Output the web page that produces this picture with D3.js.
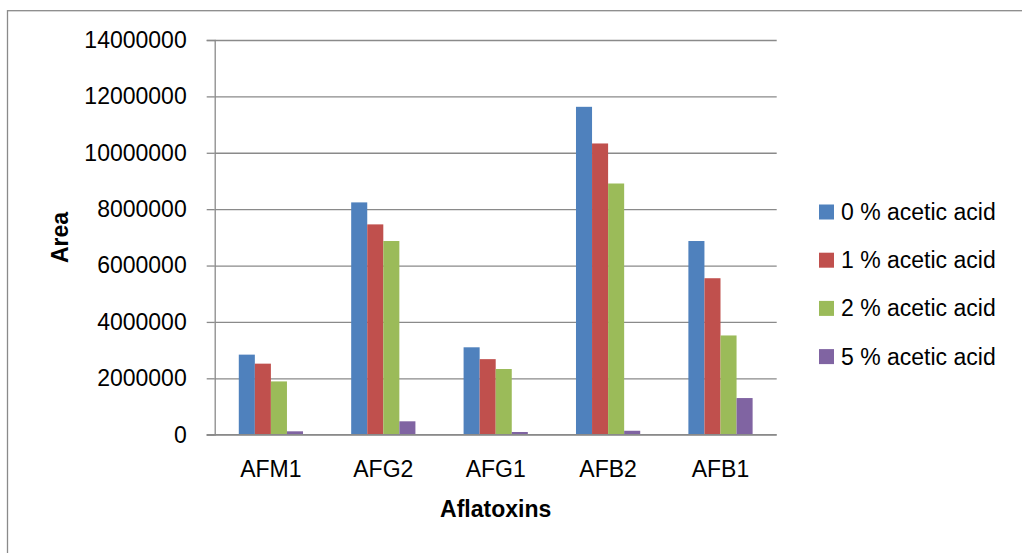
<!DOCTYPE html>
<html>
<head>
<meta charset="utf-8">
<script src="https://cdn.jsdelivr.net/npm/d3@7"></script>
<style>
  html, body { margin: 0; padding: 0; background: #fff; }
  svg { display: block; }
  text { font-family: "Liberation Sans", Arial, sans-serif; fill: #000; }
</style>
</head>
<body>
<svg id="chart" width="1022" height="553"></svg>
<script>
// Aflatoxin peak areas by acetic acid concentration
const categories = ["AFM1", "AFG2", "AFG1", "AFB2", "AFB1"];
const seriesNames = ["0 % acetic acid", "1 % acetic acid", "2 % acetic acid", "5 % acetic acid"];
const acid0 = [2840000, 8240000, 3100000, 11630000, 6870000];
const acid1 = [2520000, 7460000, 2680000, 10330000, 5550000];
const acid2 = [1890000, 6870000, 2330000, 8910000, 3520000];
const acid5 = [120000, 475000, 96000, 140000, 1300000];
const yTicks = [0, 2000000, 4000000, 6000000, 8000000, 10000000, 12000000, 14000000];
const colors = ["#4F81BD", "#C0504D", "#9BBB59", "#8064A2"];

const seriesValues = [acid0, acid1, acid2, acid5];

const svg = d3.select("#chart");
const plot = { left: 214.7, right: 776.7, top: 40, bottom: 434.7 };
const gridColor = "#8a8a8a";

// outer chart frame (right and bottom edges fall outside the view)
svg.append("rect")
  .attr("x", 7.5).attr("y", 10.7)
  .attr("width", 1100).attr("height", 600)
  .attr("fill", "none").attr("stroke", gridColor).attr("stroke-width", 1.3);

const x0 = d3.scaleBand().domain(categories).range([plot.left, plot.right]).padding(0);
const bw = x0.bandwidth();
const x1 = d3.scaleBand().domain(seriesNames).range([bw * 1.5 / 7, bw * 5.5 / 7]).padding(0);
const y = d3.scaleLinear().domain([0, 14000000]).range([plot.bottom, plot.top]);

// horizontal gridlines
const grid = svg.append("g")
  .attr("transform", `translate(${plot.left},0)`)
  .call(d3.axisLeft(y).tickValues(yTicks).tickSize(-(plot.right - plot.left)).tickFormat(""));
grid.select(".domain").remove();
grid.selectAll("line").attr("stroke", gridColor).attr("stroke-width", 1.3);

// bars
const rows = categories.map((c, i) => ({ cat: c, vals: seriesNames.map((s, j) => ({ s, v: seriesValues[j][i], j })) }));
svg.append("g").selectAll("g")
  .data(rows).join("g")
  .attr("transform", d => `translate(${x0(d.cat)},0)`)
  .selectAll("rect")
  .data(d => d.vals).join("rect")
  .attr("x", d => x1(d.s))
  .attr("y", d => y(d.v))
  .attr("width", x1.bandwidth())
  .attr("height", d => y(0) - y(d.v))
  .attr("fill", d => colors[d.j]);

// y axis with tick marks and labels
const yAxis = svg.append("g")
  .attr("transform", `translate(${plot.left},0)`)
  .call(d3.axisLeft(y).tickValues(yTicks).tickSize(8).tickPadding(20).tickFormat(d3.format("d")));
yAxis.select(".domain").attr("stroke", gridColor).attr("stroke-width", 1.3);
yAxis.selectAll("line").attr("stroke", gridColor).attr("stroke-width", 1.3);
yAxis.selectAll("text").style("font-family", "Liberation Sans, Arial, sans-serif").style("font-size", "23px").attr("fill", "#000");

// x axis baseline and category labels
const xAxis = svg.append("g")
  .attr("transform", `translate(0,${plot.bottom})`)
  .call(d3.axisBottom(x0).tickSize(0).tickPadding(26));
xAxis.select(".domain").attr("stroke", gridColor).attr("stroke-width", 1.3)
  .attr("d", `M${plot.left - 8},0H${plot.right}`);
xAxis.selectAll("text").style("font-family", "Liberation Sans, Arial, sans-serif").style("font-size", "23px").attr("fill", "#000");

// axis titles
svg.append("text")
  .attr("x", (plot.left + plot.right) / 2).attr("y", 509)
  .attr("dy", "0.35em").attr("text-anchor", "middle")
  .style("font-size", "23px").style("font-weight", "bold")
  .text("Aflatoxins");

svg.append("text")
  .attr("transform", "translate(60,237.5) rotate(-90)")
  .attr("dy", "0.35em").attr("text-anchor", "middle")
  .style("font-size", "23px").style("font-weight", "bold")
  .text("Area");

// legend
const legend = svg.append("g").attr("transform", "translate(819,212)");
const item = legend.selectAll("g").data(seriesNames).join("g")
  .attr("transform", (d, i) => `translate(0,${i * 48.2})`);
item.append("rect")
  .attr("x", 0).attr("y", -7.5).attr("width", 15).attr("height", 15)
  .attr("fill", (d, i) => colors[i]);
item.append("text")
  .attr("x", 22).attr("y", 0).attr("dy", "0.35em")
  .style("font-size", "23px")
  .text(d => d);
</script>
</body>
</html>
